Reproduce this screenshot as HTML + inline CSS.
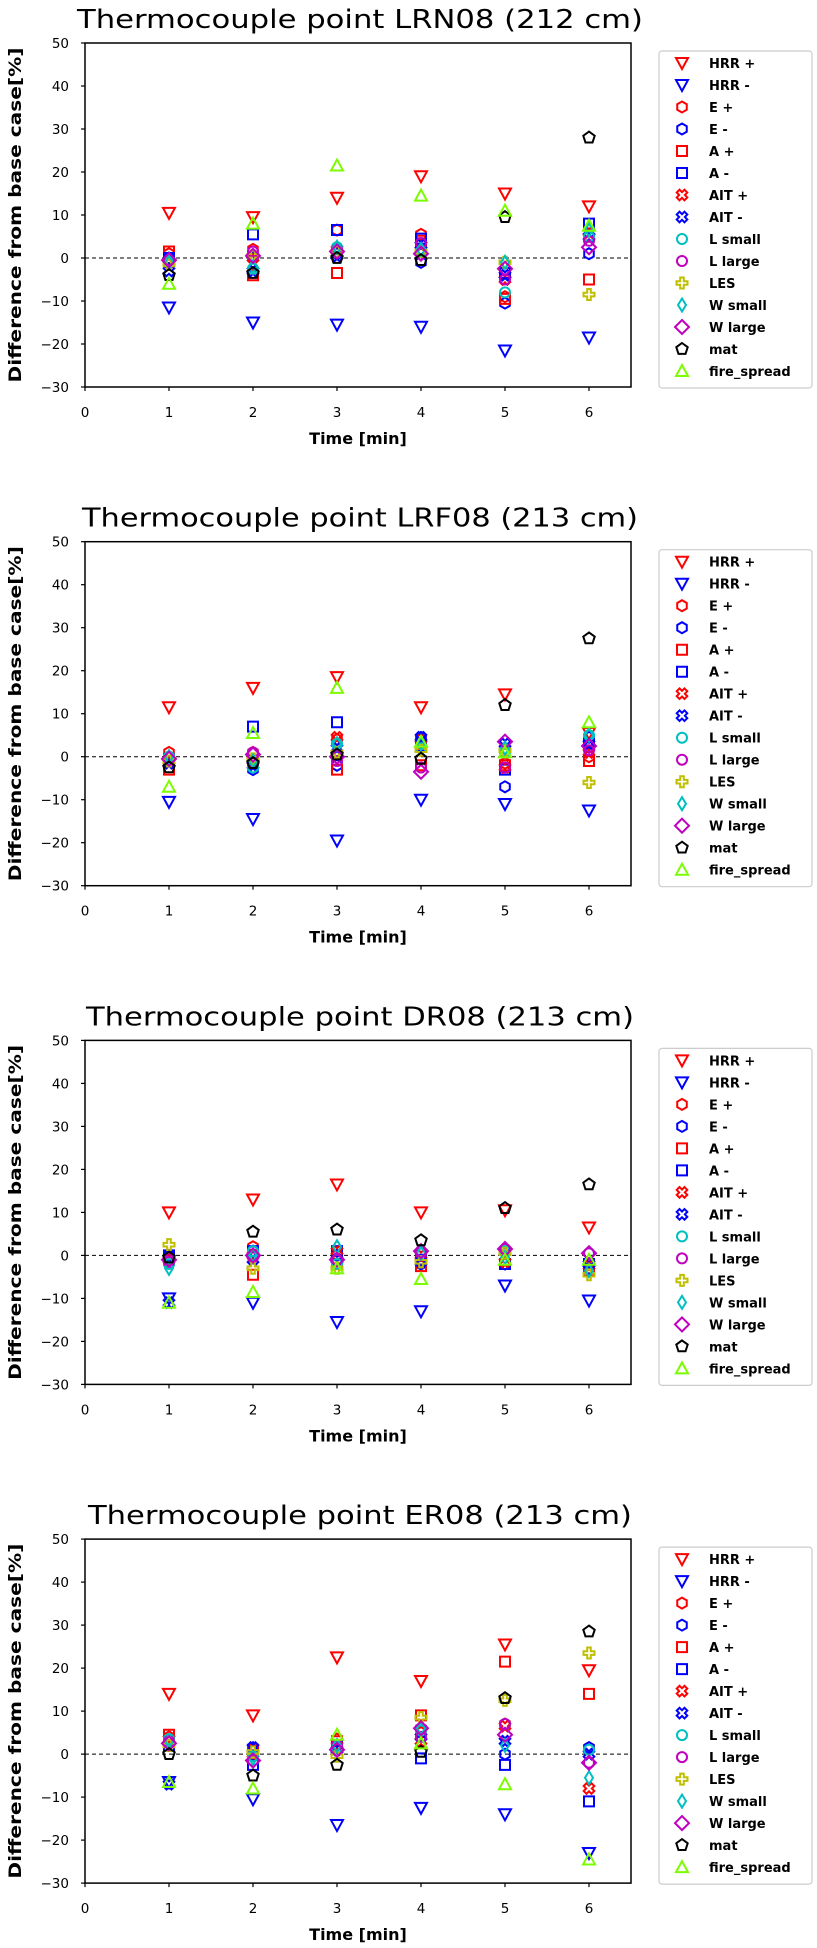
<!DOCTYPE html>
<html><head><meta charset="utf-8"><style>
body{margin:0;background:#fff;width:817px;height:1948px;overflow:hidden}
svg{display:block;font-family:"DejaVu Sans","Liberation Sans",sans-serif}
</style></head><body>
<svg id="fig" width="817" height="1948" viewBox="0 0 817 1948"></svg>
<script>
const times = [1,2,3,4,5,6];
const yTicks = [-30,-20,-10,0,10,20,30,40,50];
const xTicks = [0,1,2,3,4,5,6];
const seriesNames = ["HRR +","HRR -","E +","E -","A +","A -","AIT +","AIT -","L small","L large","LES","W small","W large","mat","fire_spread"];
const panelTitles = ["Thermocouple point LRN08 (212 cm)","Thermocouple point LRF08 (213 cm)","Thermocouple point DR08 (213 cm)","Thermocouple point ER08 (213 cm)"];
const titleWidths = [566,556,548,544];
// values per panel: rows = series, columns = times 1..6
const lrn08 = [
 [10.5,9.5,14,19,15,12],[-11.5,-15,-15.5,-16,-21.5,-18.5],[1,2,6.5,5.5,-9,5],[0,0,1,-1,-10.5,1],
 [1.5,-4,-3.5,4,-9.5,-5],[0,5.5,6.5,4.5,-3.5,8],[-1,0,2,3,-5,6],[-3,-3,0.5,3,-4,5],
 [-1,-2.5,2.5,1.5,-8,5],[-0.5,1.5,2,3.5,-5,4],[-1.5,0.5,1.5,1.5,-1,-8.5],[-1,-2,2.5,2,-1,6.5],
 [-0.5,0.5,1.5,1,-2.5,2.5],[-4,-3.5,0,-0.5,9.5,28],[-6,8,21.5,14.5,11,7.5]];
const lrf08 = [
 [11.5,16,18.5,11.5,14.5,5.5],[-10.5,-14.5,-19.5,-10,-11,-12.5],[1,1,4,4,-1.5,0],[0,-3,-2,4.5,-7,4.5],
 [-3,-1,-3,-2,-2,-1],[-1,7,8,2.5,-3,3],[-1,-1,4.5,3,-2.5,1],[-1.5,-2,2,4.5,3,3],
 [0,-2.5,3,2,1,5],[-1,1,-1,-2.5,-2.5,1.5],[-1,-0.5,1,1.5,1.5,-6],[0,-1,3,3,2,5],
 [-0.5,0.5,0,-3.5,3.5,2.5],[-2.5,-1.5,0.5,-0.5,12,27.5],[-7,5.5,16,3.5,1,8]];
const dr08 = [
 [10,13,16.5,10,10.5,6.5],[-10,-11,-15.5,-13,-7,-10.5],[0,2,0,-2,-2,-3],[0,1,0,-2,-2,-3],
 [-1,-4.5,-2,-2.5,-2,-3.5],[0,1,1,-1,-2,-2],[-1,0,1,0,-1.5,-2.5],[-11,-1,-1,-1.5,1,-2],
 [-2,1,-2,1,1,0.5],[-1.5,-0.5,-1,0.5,1.5,0.5],[2.5,-3,-3,-1.5,0.5,-4.5],[-3,0,2,0.5,-0.5,-3.5],
 [-1,0,-1,1,1.5,0.5],[-0.5,5.5,6,3.5,11,16.5],[-11,-8.5,-3,-5.5,-1,-1]];
const er08 = [
 [14,9,22.5,17,25.5,19.5],[-6.5,-10.5,-16.5,-12.5,-14,-23],[4,1,3.5,5,7,1.5],[3,1.5,2,6,0,1.5],
 [4.5,1,3,9,21.5,14],[2,-2.5,2,-1,-2.5,-11],[3.5,0,2,3,6.5,-8],[-7,1.5,1,4,3,0],
 [3.5,-0.5,1.5,5.5,7,1],[3,-1.5,2,4,7,-2],[2,0.5,-0.5,8.5,12.5,23.5],[3,-1,2,6,2,-5.5],
 [2.5,-1.5,1,6,4.5,-2],[0,-5,-2.5,0.5,13,28.5],[-6.5,-8,4.5,2.5,-7,-24.5]];
const panelData = [lrn08, lrf08, dr08, er08];

const NS = "http://www.w3.org/2000/svg";
const svg = document.getElementById('fig');
const colors = ["#ff0000","#0000ff","#ff0000","#0000ff","#ff0000","#0000ff","#ff0000","#0000ff","#00bfbf","#bf00bf","#bfbf00","#00bfbf","#bf00bf","#000000","#7cfc00"];
const shapes = ["v","v","h","h","s","s","X","X","o","o","P","d","D","p","^"];
const PANEL_H = 498.7, X0 = 85, XS = 84, Y50 = 43, YS = 4.3;
function el(tag, attrs, parent){const e=document.createElementNS(NS,tag);for(const k in attrs)e.setAttribute(k,attrs[k]);parent.appendChild(e);return e;}
function poly(pts){return pts.map(p=>p[0].toFixed(2)+","+p[1].toFixed(2)).join(" ");}
function shapePts(sh){
  const r=[];
  if(sh==="v") return [[-6,-5],[6,-5],[0,6]];
  if(sh==="^") return [[-6,5],[6,5],[0,-6]];
  if(sh==="s") return [[-5,-5],[5,-5],[5,5],[-5,5]];
  if(sh==="d") return [[0,-6.5],[4,0],[0,6.5],[-4,0]];
  if(sh==="D") return [[0,-7],[7,0],[0,7],[-7,0]];
  if(sh==="h"){for(let i=0;i<6;i++){const a=Math.PI/6+i*Math.PI/3;r.push([5.5*Math.cos(a),5.5*Math.sin(a)]);}return r;}
  if(sh==="p"){for(let i=0;i<5;i++){const a=-Math.PI/2+i*2*Math.PI/5;r.push([6*Math.cos(a),6*Math.sin(a)]);}return r;}
  if(sh==="P"){const a=1.8,b=5.5;return [[-a,-b],[a,-b],[a,-a],[b,-a],[b,a],[a,a],[a,b],[-a,b],[-a,a],[-b,a],[-b,-a],[-a,-a]];}
  if(sh==="X"){const a=2,b=5.5;const base=[[-a,-b],[a,-b],[a,-a],[b,-a],[b,a],[a,a],[a,b],[-a,b],[-a,a],[-b,a],[-b,-a],[-a,-a]];const c=Math.SQRT1_2;return base.map(p=>[(p[0]-p[1])*c,(p[0]+p[1])*c]);}
  return null;
}
function drawMarker(parent, sh, color, cx, cy){
  let m;
  if(sh==="o"){m=el('circle',{cx:cx,cy:cy,r:5,fill:'none',stroke:color,'stroke-width':2},parent);}
  else{m=el('polygon',{points:poly(shapePts(sh).map(p=>[p[0]+cx,p[1]+cy])),fill:'none',stroke:color,'stroke-width':2,'stroke-linejoin':'miter'},parent);}
  return m;
}
panelData.forEach((data,pi)=>{
  const oy = pi*PANEL_H;
  const xs = v => X0 + v*XS;
  const ys = v => oy + Y50 + (50 - v)*YS;
  const g = el('g',{},svg);
  
  
  const t = el('text',{x:360,y:oy+28,'text-anchor':'middle','font-size':26,textLength:titleWidths[pi],lengthAdjust:'spacingAndGlyphs'},g);
  t.textContent = panelTitles[pi];
  
  
  const zl = el('line',{x1:X0,x2:631,y1:ys(0),y2:ys(0),stroke:'#000','stroke-width':1,'stroke-dasharray':'4,3'},g);
  
  
  yTicks.forEach(v=>{
    el('line',{x1:X0-4,x2:X0,y1:ys(v),y2:ys(v),stroke:'#000','stroke-width':1.2},g);
    const tl = el('text',{x:69,y:ys(v)+5,'text-anchor':'end','font-size':13.5},g);
    tl.textContent = v<0 ? '\u2212'+Math.abs(v) : String(v);
    
    
  });
  xTicks.forEach(v=>{
    el('line',{x1:xs(v),x2:xs(v),y1:ys(-30),y2:ys(-30)+4,stroke:'#000','stroke-width':1.2},g);
    const tl = el('text',{x:xs(v),y:oy+417,'text-anchor':'middle','font-size':13.5},g);
    tl.textContent = String(v);
    
    
  });
  const xl = el('text',{x:358,y:oy+444,'text-anchor':'middle','font-size':16,'font-weight':'bold'},g);
  xl.textContent='Time [min]';
  
  
  const yl = el('text',{x:0,y:0,'text-anchor':'middle','font-size':17,'font-weight':'bold',textLength:335,lengthAdjust:'spacingAndGlyphs',transform:`translate(21,${oy+215}) rotate(-90)`},g);
  yl.textContent='Difference from base case[%]';
  
  
  data.forEach((row,si)=>{
    row.forEach((v,ti)=>{
      const m = drawMarker(g, shapes[si], colors[si], xs(times[ti]), ys(v));
      
      
    });
  });
  const frame = el('rect',{x:X0,y:oy+Y50,width:631-X0,height:80*YS,fill:'none',stroke:'#000','stroke-width':1.5},g);
  
  
  const lg = el('g',{},g);
  
  
  el('rect',{x:659,y:oy+51,width:153,height:337,rx:3,fill:'#fff',stroke:'#ccc','stroke-width':1.2},lg);
  seriesNames.forEach((n,si)=>{
    const yy = oy+63+si*22;
    drawMarker(lg, shapes[si], colors[si], 682, yy);
    const lt = el('text',{x:709,y:yy+5,'font-size':13,'font-weight':'bold'},lg);
    lt.textContent = n;
    
    
  });
});
</script>
</body></html>
